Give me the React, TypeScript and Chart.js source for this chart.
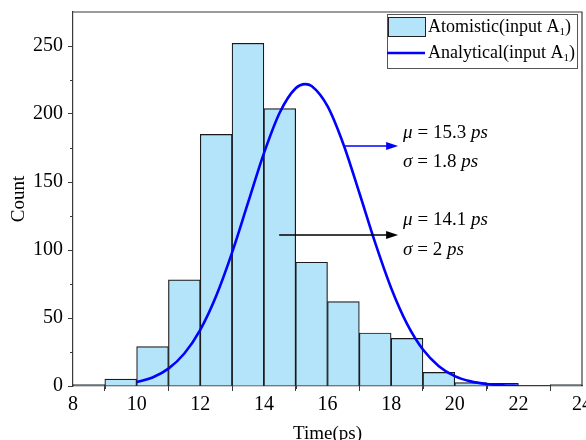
import React, { useEffect, useRef } from "react";
import { Chart, registerables } from "chart.js";

Chart.register(...registerables);

// Histogram bins (bin centers) and counts
const binCenters = [8.5, 9.5, 10.5, 11.5, 12.5, 13.5, 14.5, 15.5, 16.5, 17.5, 18.5, 19.5, 20.5, 21.5, 22.5, 23.5];
const binCounts = [1, 5, 29, 78, 185, 252, 204, 91, 62, 39, 35, 10, 2.5, 2, 0, 1];

// Analytical curve
const curveX = [10, 10.5, 11, 11.5, 12, 12.5, 13, 13.5, 14, 14.5, 15, 15.3, 15.5, 16, 16.5, 17, 17.5, 18, 18.5, 19, 19.5, 20, 20.5, 21, 21.5, 22];
const curveY = [2.9, 6.3, 12.8, 23.9, 41.3, 66.2, 98.1, 134.6, 171, 201.1, 218.9, 222, 220.6, 205.8, 177.8, 142.1, 105.2, 72.1, 45.7, 26.8, 14.6, 7.3, 3.4, 1.5, 0.6, 0.2];

const xTickValues = [8, 10, 12, 14, 16, 18, 20, 22, 24];
const yTickValues = [0, 50, 100, 150, 200, 250];

const legendLabels = ["Atomistic(input A", "Analytical(input A"];
const annotations = [
  { mu: "15.3", sigma: "1.8", color: "#0000ff", arrowY: 176.5, arrowFrom: 16.55, arrowTo: 18.22 },
  { mu: "14.1", sigma: "2", color: "#000000", arrowY: 111, arrowFrom: 14.48, arrowTo: 18.22 },
];

const BAR_COLOR = "rgb(180,228,250)";
const CURVE_COLOR = "#0000ff";
const FRAME = "#3a3a3a";
const FONT = "'Liberation Serif', 'DejaVu Serif', serif";

const overlayPlugin = {
  id: "overlay",
  afterDatasetsDraw(chart: any) {
    const { ctx, chartArea, scales } = chart;
    const xs = scales.x;
    const ys = scales.y;
    ctx.save();
    // frame top & right
    ctx.strokeStyle = FRAME;
    ctx.lineWidth = 1.2;
    ctx.beginPath();
    ctx.moveTo(chartArea.left, chartArea.top);
    ctx.lineTo(chartArea.right, chartArea.top);
    ctx.lineTo(chartArea.right, chartArea.bottom);
    ctx.stroke();
    // minor ticks
    ctx.lineWidth = 1;
    ctx.beginPath();
    for (let v = 25; v < 275; v += 50) {
      const py = Math.round(ys.getPixelForValue(v)) + 0.5;
      ctx.moveTo(chartArea.left - 3, py);
      ctx.lineTo(chartArea.left, py);
    }
    for (let v = 9; v < 24; v += 2) {
      const px = Math.round(xs.getPixelForValue(v)) + 0.5;
      ctx.moveTo(px, chartArea.bottom);
      ctx.lineTo(px, chartArea.bottom + 3);
    }
    ctx.stroke();

    // annotations
    annotations.forEach((a, i) => {
      const y = ys.getPixelForValue(a.arrowY);
      const x1 = xs.getPixelForValue(a.arrowFrom);
      const x2 = xs.getPixelForValue(a.arrowTo);
      ctx.strokeStyle = a.color;
      ctx.fillStyle = a.color;
      ctx.lineWidth = 1.5;
      ctx.beginPath();
      ctx.moveTo(x1, y);
      ctx.lineTo(x2 - 6, y);
      ctx.stroke();
      ctx.beginPath();
      ctx.moveTo(x2, y);
      ctx.lineTo(x2 - 12, y - 4);
      ctx.lineTo(x2 - 12, y + 4);
      ctx.closePath();
      ctx.fill();
      const tx = x2 + 5;
      const muY = i === 0 ? y - 13 : y - 15;
      const sgY = i === 0 ? y + 16 : y + 15;
      ctx.fillStyle = "#000";
      ctx.textBaseline = "middle";
      ctx.textAlign = "left";
      const drawParts = (parts: [string, boolean][], yy: number) => {
        let cx = tx;
        parts.forEach(([s, it]) => {
          ctx.font = (it ? "italic " : "") + "19px " + FONT;
          ctx.fillText(s, cx, yy);
          cx += ctx.measureText(s).width;
        });
      };
      drawParts([["\u03BC", true], [" = " + a.mu + " ", false], ["ps", true]], muY);
      drawParts([["\u03C3", true], [" = " + a.sigma + " ", false], ["ps", true]], sgY);
    });

    // legend
    const lx = chartArea.right - 195;
    const ly = chartArea.top + 2;
    const lw = 190;
    const lh = 54;
    ctx.fillStyle = "#fff";
    ctx.fillRect(lx, ly, lw, lh);
    ctx.strokeStyle = "#555";
    ctx.lineWidth = 1;
    ctx.strokeRect(lx + 0.5, ly + 0.5, lw, lh);
    ctx.fillStyle = BAR_COLOR;
    ctx.fillRect(lx + 1, ly + 3, 37, 19);
    ctx.strokeStyle = "#222";
    ctx.strokeRect(lx + 1.5, ly + 3.5, 37, 19);
    ctx.strokeStyle = CURVE_COLOR;
    ctx.lineWidth = 2.5;
    ctx.beginPath();
    ctx.moveTo(lx, ly + 39);
    ctx.lineTo(lx + 38, ly + 39);
    ctx.stroke();
    ctx.fillStyle = "#000";
    ctx.textBaseline = "middle";
    legendLabels.forEach((lab, i) => {
      const yy = ly + 13 + i * 26;
      let cx = lx + 41;
      ctx.font = "18px " + FONT;
      ctx.fillText(lab, cx, yy);
      cx += ctx.measureText(lab).width;
      ctx.font = "11px " + FONT;
      ctx.fillText("1", cx, yy + 5);
      cx += ctx.measureText("1").width;
      ctx.font = "18px " + FONT;
      ctx.fillText(")", cx, yy);
    });
    ctx.restore();
  },
};

export default function App() {
  const ref = useRef<HTMLCanvasElement>(null);
  useEffect(() => {
    const canvas = ref.current;
    if (!canvas) return;
    const chart = new Chart(canvas, {
      type: "bar",
      data: {
        datasets: [
          {
            type: "bar",
            label: "Atomistic(input A1)",
            data: binCenters.map((x, i) => ({ x, y: binCounts[i] })),
            backgroundColor: BAR_COLOR,
            borderColor: "#1a1a1a",
            borderWidth: 1.2,
            borderSkipped: "start",
            barPercentage: 1,
            categoryPercentage: 1,
            order: 2,
          } as any,
          {
            type: "line",
            label: "Analytical(input A1)",
            data: curveX.map((x, i) => ({ x, y: curveY[i] })),
            borderColor: CURVE_COLOR,
            borderWidth: 2.6,
            pointRadius: 0,
            tension: 0.4,
            cubicInterpolationMode: "monotone",
            fill: false,
            order: 1,
          } as any,
        ],
      },
      options: {
        responsive: false,
        animation: false,
        layout: { padding: { top: 12, right: 4, left: 0, bottom: 0 } },
        plugins: { legend: { display: false }, tooltip: { enabled: false } },
        scales: {
          x: {
            type: "linear",
            min: 8,
            max: 24,
            offset: false,
            afterBuildTicks: (s: any) => {
              s.ticks = xTickValues.map((v) => ({ value: v }));
            },
            ticks: { color: "#000", font: { family: FONT, size: 20 }, padding: 2, maxRotation: 0, autoSkip: false },
            grid: { drawOnChartArea: false, tickLength: 5, color: FRAME, tickWidth: 1 },
            border: { display: true, color: FRAME, width: 1.2 },
            title: { display: true, text: "Time(ps)", color: "#000", font: { family: FONT, size: 19 }, padding: { top: 0, bottom: -5 } },
            afterFit: (s: any) => {
              s.height = 54;
              s.paddingRight = 0;
              s.paddingLeft = 0;
            },
          },
          y: {
            type: "linear",
            min: 0,
            max: 275,
            afterBuildTicks: (s: any) => {
              s.ticks = yTickValues.map((v) => ({ value: v }));
            },
            ticks: { color: "#000", font: { family: FONT, size: 20 }, padding: 5 },
            grid: { drawOnChartArea: false, tickLength: 5, color: FRAME, tickWidth: 1 },
            border: { display: true, color: FRAME, width: 1.2 },
            title: { display: true, text: "Count", color: "#000", font: { family: FONT, size: 19 }, padding: { top: 8, bottom: 0 } },
            afterFit: (s: any) => {
              s.width = 73;
              s.paddingTop = 0;
              s.paddingBottom = 0;
            },
          },
        },
      },
      plugins: [overlayPlugin],
    });
    return () => chart.destroy();
  }, []);
  return (
    <div style={{ position: "fixed", left: 0, top: 0, width: 586, height: 440, background: "#fff" }}>
      <canvas ref={ref} width={586} height={440} style={{ width: 586, height: 440 }} />
    </div>
  );
}
